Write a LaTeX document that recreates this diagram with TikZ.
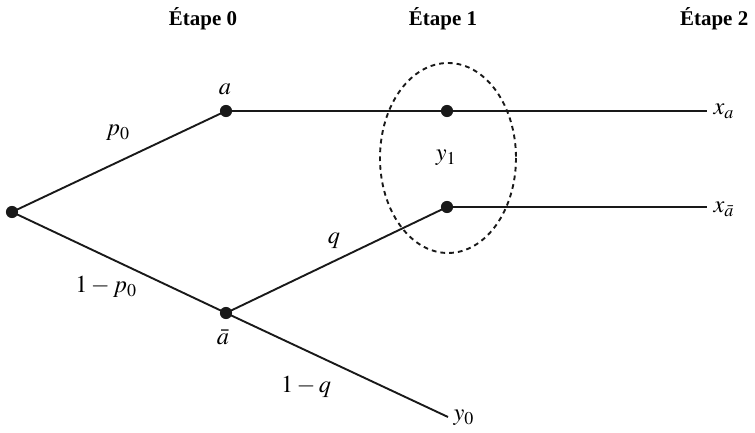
\documentclass[tikz,border=0pt]{standalone}
\usepackage{mathptmx}
\usepackage{fontspec}
\setmainfont{Liberation Serif}
\usetikzlibrary{positioning}
\tikzset{
  dot/.style={circle, fill=black!90, inner sep=0pt, minimum size=9pt},
  branch/.style={draw=black!90, line width=1.4pt},
  thick branch/.style={branch, line width=1.8pt},
  lab/.style={font=\fontsize{18}{20}\selectfont, inner sep=1pt},
  stage/.style={font=\bfseries\fontsize{15.5}{17}\selectfont},
  info/.style={draw=black!90, dashed, line width=1.4pt, dash pattern=on 3.5pt off 3pt}
}
\begin{document}
\begin{tikzpicture}[x=0.026cm, y=-0.026cm]
  \useasboundingbox (0,0) rectangle (755,433);

  % stages
  \node[stage] (s0) at (203,19) {Étape 0};
  \node[stage] (s1) at (443,19) {Étape 1};
  \node[stage, anchor=east] (s2) at (753,19) {Étape 2};

  % decision nodes
  \node[dot] (root) at (12,212) {};
  \node[dot] (a) at (226,111) {};
  \node[dot] (abar) at (226,313) {};
  \node[dot] (ya) at (447,111) {};
  \node[dot] (yabar) at (447,207) {};
  \coordinate (xa) at (707,111);
  \coordinate (xabar) at (707,207);
  \coordinate (yzero) at (448,417);

  % branches
  \draw[branch] (root.center) -- (a.center);
  \draw[branch] (root.center) -- (abar.center);
  \draw[thick branch] (a.center) -- (ya.center);
  \draw[branch] (ya.center) -- (xa);
  \draw[branch] (abar.center) -- (yabar.center);
  \draw[branch] (yabar.center) -- (xabar);
  \draw[branch] (abar.center) -- (yzero);

  % information set
  \draw[info] (448,158) ellipse (68 and 95);

  % labels
  \node[lab] at (225,89) {$a$};
  \node[lab] at (223,337) {$\bar a$};
  \node[lab] at (118,133) {$p_0$};
  \node[lab] at (106,287) {$1-p_0$};
  \node[lab] at (334,241) {$q$};
  \node[lab] at (306,387) {$1-q$};
  \node[lab] at (446,158) {$y_1$};
  \node[lab, anchor=west] at (712,111) {$x_a$};
  \node[lab, anchor=west] at (712,209) {$x_{\bar a}$};
  \node[lab, anchor=west] at (452,418) {$y_0$};
\end{tikzpicture}
\end{document}
